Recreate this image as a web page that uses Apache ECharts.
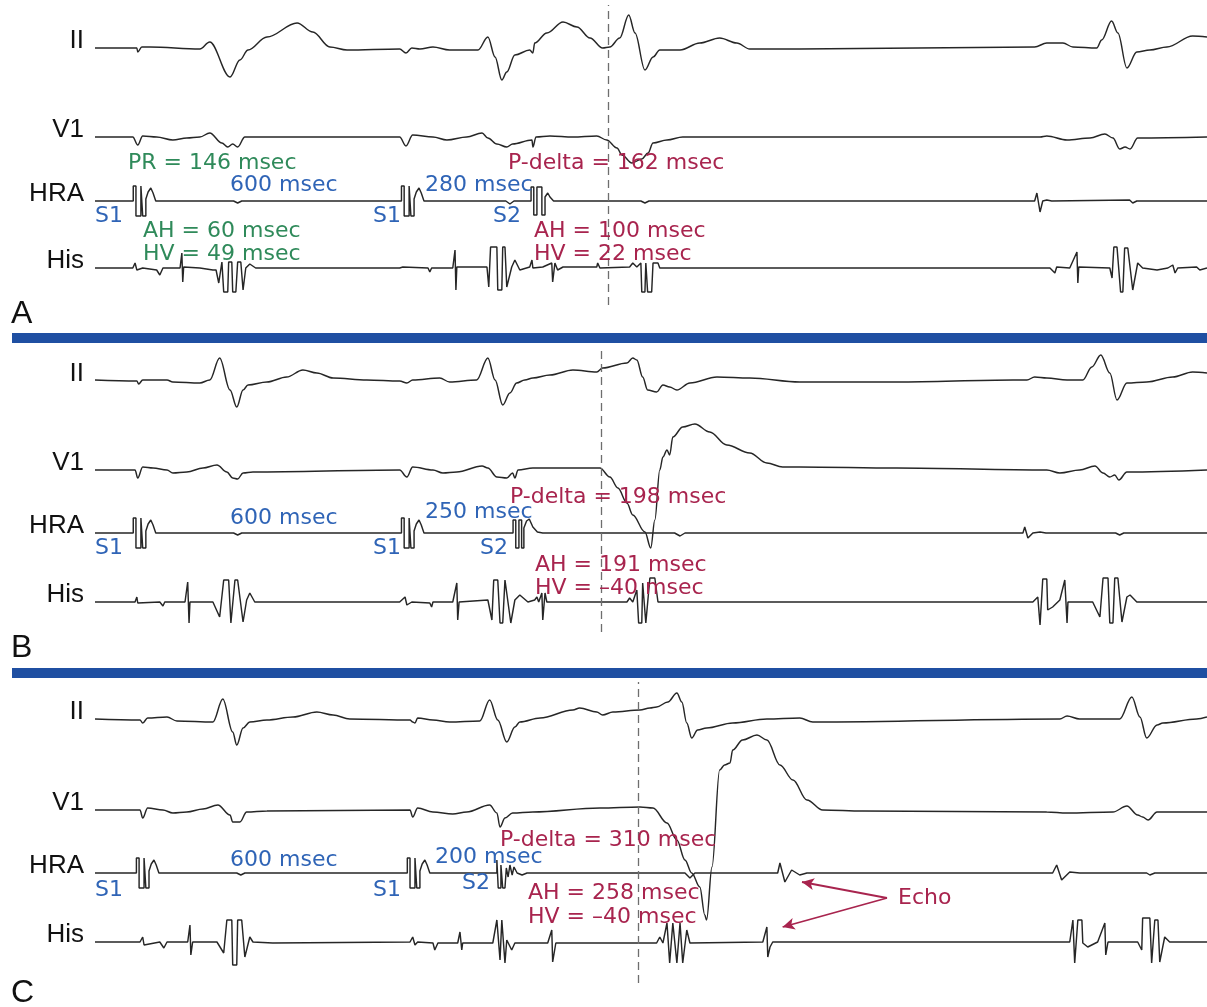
<!DOCTYPE html>
<html lang="en">
<head>
<meta charset="UTF-8">
<title>Premature atrial stimulation - P-delta / AH / HV</title>
<style>
  html, body { margin: 0; padding: 0; background: #fff; }
  #chart { width: 1207px; height: 1007px; }
</style>
</head>
<body>
<div id="chart"></div>
<script src="https://cdn.jsdelivr.net/npm/echarts@6/dist/echarts.min.js"></script>
<script type="text/javascript">
// time in msec from the first S1, amplitude in arbitrary trace units (up = positive)
var traceNames = ['II', 'V1', 'HRA', 'His'];

// ---- panel A : S2 at 280 msec ----
var iiA = [[-93,0],[0,0],[2,-4],[11,1],[29,1],[140,-1],[162,6],[207,-29],[229,-12],[247,-2],[289,11],[356,25],[391,16],[429,1],[467,-2],[584,-1],[598,-5],[611,0],[629,-1],[658,1],[695,-2],[758,-2],[780,11],[796,-9],[811,-32],[822,-24],[840,-7],[873,-2],[880,-5],[884,5],[911,15],[947,26],[978,21],[1007,10],[1035,0],[1051,1],[1073,10],[1093,33],[1107,15],[1129,-22],[1147,-9],[1162,-2],[1207,-2],[1251,5],[1295,10],[1333,5],[1362,-1],[1473,-1],[1995,1],[2022,5],[2058,5],[2080,1],[2133,0],[2144,8],[2166,27],[2180,15],[2200,-20],[2222,-4],[2251,-2],[2289,1],[2346,12],[2378,11]];
var v1A = [[-93,0],[-9,0],[2,-8],[13,1],[44,0],[80,-3],[111,-1],[140,0],[162,4],[189,-6],[202,-10],[213,-7],[224,-10],[240,0],[584,0],[598,-9],[613,2],[658,0],[689,-3],[733,0],[767,4],[780,-1],[800,-7],[822,-10],[835,-7],[878,-3],[880,-10],[887,0],[918,1],[969,0],[1022,1],[1044,-3],[1067,-11],[1078,-18],[1100,-26],[1122,-22],[1136,-16],[1147,-6],[1178,-3],[1213,0],[2007,0],[2022,1],[2067,-3],[2118,-1],[2151,3],[2169,-1],[2184,-12],[2196,-10],[2207,-12],[2224,-1],[2378,0]];
var hraA = [[-93,0],[-8,0],[-8,15],[-2,15],[-2,-15],[9,-15],[9,15],[13,15],[13,-15],[20,-15],[20,2],[25,9],[31,13],[36,8],[42,0],[215,0],[224,-2],[233,0],[588,0],[588,15],[594,15],[594,-15],[605,-15],[605,15],[609,15],[609,-15],[616,-15],[616,2],[621,9],[627,13],[632,8],[638,0],[820,0],[829,-3],[838,0],[876,0],[876,14],[882,14],[882,-14],[889,-14],[889,14],[900,14],[900,-14],[907,-14],[907,4],[913,8],[918,4],[926,0],[1120,0],[1129,-2],[1138,0],[1995,0],[2000,8],[2007,-11],[2013,0],[2022,1],[2033,0],[2206,1],[2213,-2],[2222,0],[2378,0]];
var hisA = [[-93,0],[-9,0],[-4,5],[0,-2],[13,0],[44,-2],[51,-7],[58,0],[96,0],[100,15],[102,-14],[104,1],[140,0],[169,-2],[176,-2],[182,-15],[189,6],[191,6],[193,-24],[202,-24],[204,6],[211,6],[213,-24],[220,-24],[224,6],[231,6],[236,-22],[242,0],[251,4],[264,0],[584,0],[591,1],[647,0],[651,-4],[655,0],[702,0],[707,18],[709,-22],[711,1],[778,1],[782,-19],[786,21],[800,21],[802,-22],[811,-22],[813,21],[818,21],[822,-19],[833,1],[840,8],[851,-2],[873,1],[878,8],[880,0],[902,1],[922,5],[924,-14],[929,5],[935,-2],[947,1],[1022,1],[1024,5],[1029,0],[1095,1],[1102,5],[1111,1],[1120,5],[1122,-24],[1129,-24],[1131,5],[1135,-24],[1144,-24],[1147,5],[1158,5],[1162,0],[2029,0],[2040,-5],[2044,1],[2073,0],[2089,16],[2091,-15],[2093,1],[2162,0],[2167,-10],[2171,21],[2178,21],[2186,-24],[2191,-24],[2195,20],[2202,20],[2213,-22],[2224,5],[2235,0],[2267,-2],[2291,0],[2302,3],[2307,-5],[2313,0],[2355,1],[2362,-2],[2378,0]];

// ---- panel B : S2 at 250 msec ----
var iiB = [[-93,1],[0,0],[4,-3],[13,1],[67,1],[80,-1],[140,-2],[162,1],[184,23],[207,-9],[222,-26],[236,-9],[247,-4],[289,-1],[333,4],[369,11],[400,8],[436,3],[511,1],[584,0],[600,-2],[613,1],[673,3],[695,-1],[755,1],[780,23],[796,1],[813,-24],[829,-12],[844,-2],[862,1],[880,3],[918,6],[969,11],[1022,9],[1035,13],[1089,18],[1102,23],[1111,21],[1124,4],[1135,-9],[1155,-11],[1169,-4],[1184,-6],[1200,-9],[1229,-2],[1289,4],[1362,3],[1473,-1],[1689,-1],[1947,1],[1978,1],[1995,4],[2022,3],[2067,1],[2102,1],[2122,14],[2142,26],[2162,8],[2178,-19],[2200,-2],[2244,-1],[2302,4],[2346,9],[2378,8]];
var v1B = [[-93,0],[-4,0],[2,-8],[13,3],[36,2],[67,0],[80,-3],[111,-2],[147,2],[178,5],[200,-2],[213,-8],[224,-9],[236,-3],[258,-2],[584,0],[600,-7],[613,3],[658,0],[680,-3],[711,-2],[767,4],[780,2],[800,-7],[822,-8],[835,-3],[840,-8],[847,0],[880,2],[1029,2],[1051,-7],[1069,-18],[1089,-33],[1102,-45],[1129,-62],[1142,-78],[1151,-50],[1162,0],[1169,13],[1178,20],[1184,15],[1191,33],[1213,43],[1240,46],[1273,38],[1311,25],[1362,17],[1400,7],[1435,3],[1473,3],[1689,2],[2022,0],[2051,-3],[2095,0],[2129,4],[2147,-3],[2162,-7],[2173,-5],[2182,-10],[2200,-2],[2378,0]];
var hraB = [[-93,0],[-8,0],[-8,15],[-2,15],[-2,-15],[9,-15],[9,15],[13,15],[13,-15],[20,-15],[20,2],[25,9],[31,13],[36,8],[42,0],[215,0],[224,-2],[233,0],[588,0],[588,15],[594,15],[594,-15],[605,-15],[605,15],[609,15],[609,-15],[616,-15],[616,2],[621,9],[627,13],[632,8],[638,0],[836,0],[836,13],[842,13],[842,-15],[849,-15],[849,13],[855,13],[855,-15],[860,-15],[860,5],[866,12],[872,14],[880,6],[890,1],[902,0],[1195,0],[1207,-3],[1218,0],[1969,0],[1973,6],[1980,-5],[1991,0],[2007,1],[2020,0],[2175,0],[2184,-2],[2193,0],[2378,0]];
var hisB = [[-93,0],[-4,0],[0,5],[2,-1],[51,0],[58,-4],[62,0],[107,0],[113,20],[116,-21],[118,0],[169,0],[184,-15],[193,22],[204,22],[209,-21],[213,-21],[218,22],[224,22],[236,-20],[244,2],[251,9],[262,0],[584,0],[596,5],[600,-3],[611,0],[651,-1],[655,-5],[658,0],[702,0],[711,19],[713,-18],[716,0],[780,2],[789,-18],[793,22],[802,22],[807,-21],[813,-21],[818,22],[822,22],[831,-21],[840,2],[851,7],[869,0],[884,2],[889,5],[893,0],[900,9],[902,-18],[907,9],[911,0],[940,0],[1089,0],[1095,4],[1102,0],[1111,12],[1115,-21],[1122,-21],[1124,19],[1131,-21],[1135,-21],[1140,24],[1151,24],[1158,0],[1991,0],[2002,5],[2007,-23],[2013,23],[2022,23],[2024,-8],[2035,-5],[2051,2],[2062,22],[2067,-21],[2069,0],[2124,0],[2140,-15],[2147,24],[2158,24],[2162,-21],[2169,-21],[2173,24],[2180,24],[2189,-20],[2200,5],[2207,7],[2222,0],[2378,0]];

// ---- panel C : S2 at 200 msec, atrial echo ----
var iiC = [[-93,0],[7,-1],[13,-4],[24,1],[67,2],[89,-2],[169,-3],[191,20],[213,-13],[222,-26],[236,-9],[251,-3],[289,-1],[347,2],[400,7],[436,4],[473,0],[607,-1],[613,-3],[618,-4],[624,1],[658,-1],[695,-3],[762,-2],[784,19],[802,-1],[822,-23],[840,-8],[851,-3],[896,1],[969,9],[984,11],[1022,7],[1035,4],[1058,7],[1118,9],[1140,11],[1155,12],[1180,17],[1200,26],[1211,17],[1222,-4],[1233,-19],[1246,-11],[1266,-9],[1324,-4],[1400,0],[1473,1],[1502,-3],[2051,0],[2067,3],[2095,0],[2184,0],[2211,22],[2229,2],[2244,-19],[2267,-6],[2280,-4],[2355,0],[2378,2]];
var v1C = [[-93,0],[7,0],[13,-8],[24,2],[58,0],[80,-3],[111,-2],[147,1],[180,5],[207,-5],[213,-12],[229,-12],[244,-2],[289,-1],[607,0],[613,-7],[624,2],[658,-2],[702,-4],[733,-2],[784,5],[800,-3],[807,-17],[818,-8],[835,-3],[880,-2],[1029,2],[1118,3],[1147,2],[1178,-13],[1200,-30],[1218,-50],[1233,-63],[1251,-77],[1262,-105],[1266,-110],[1278,-57],[1295,40],[1306,45],[1318,47],[1324,60],[1346,70],[1378,75],[1400,70],[1429,45],[1458,30],[1489,10],[1524,0],[1613,-1],[2022,-2],[2067,-3],[2169,-2],[2200,4],[2224,-5],[2235,-7],[2247,-10],[2267,-2],[2378,-2]];
var hraC = [[-93,0],[-1,0],[-1,15],[5,15],[5,-15],[16,-15],[16,15],[20,15],[20,-15],[27,-15],[27,2],[32,9],[38,13],[43,8],[49,0],[222,0],[231,-2],[240,0],[601,0],[601,15],[607,15],[607,-15],[618,-15],[618,15],[622,15],[622,-15],[629,-15],[629,2],[634,9],[640,13],[645,8],[651,0],[800,0],[800,13],[803,13],[803,-15],[809,-15],[809,8],[813,8],[813,-15],[818,-15],[821,5],[825,-4],[829,8],[834,-2],[838,6],[845,0],[856,-2],[867,0],[1218,0],[1229,-5],[1240,0],[1424,0],[1429,10],[1440,-9],[1455,3],[1473,-2],[1489,0],[2035,0],[2044,8],[2055,-7],[2073,1],[2095,0],[2244,0],[2251,-2],[2262,0],[2378,0]];
var hisC = [[-93,0],[7,0],[13,5],[16,-3],[51,0],[60,-6],[67,0],[113,0],[118,17],[120,-13],[124,0],[178,0],[193,-11],[200,22],[211,22],[213,-23],[222,-23],[224,22],[233,22],[240,-15],[251,5],[258,0],[302,-1],[607,0],[613,5],[618,-3],[624,0],[658,-1],[662,-8],[669,-1],[713,-1],[718,10],[722,-8],[724,-1],[791,-1],[800,22],[807,-18],[811,22],[818,-21],[822,2],[833,-8],[840,-1],[913,-1],[922,12],[924,-20],[931,-1],[940,-1],[1155,-1],[1162,5],[1169,-1],[1178,19],[1184,-21],[1191,19],[1200,-21],[1207,19],[1213,-21],[1222,12],[1229,-1],[1391,0],[1400,15],[1402,-15],[1407,-5],[1413,0],[1473,0],[2073,0],[2080,22],[2084,-21],[2091,22],[2100,22],[2102,-1],[2113,-5],[2135,0],[2151,19],[2153,-13],[2158,0],[2224,0],[2233,-8],[2235,24],[2251,24],[2255,-21],[2262,22],[2269,22],[2273,-20],[2284,5],[2295,0],[2378,0]];

// dashed reference line (onset of the delta wave) per panel, msec
var markerTimes = [1047, 1031, 1115];
// echo beats in panel C: [time, amplitude] on HRA and His
var echoHra = [1478, -9];
var echoHis = [1435, 15];

var timeRange = [-93, 2378];

// ---- layout (pixels) ----
var RED = '#a8244e', BLUE = '#2f64b6', GREEN = '#2f8a5a';
var panels = [
  { letter: 'A', top: 5,   height: 300, base: [48, 137, 201, 268], traces: [iiA, v1A, hraA, hisA], letterY: 314 },
  { letter: 'B', top: 350, height: 282, base: [381, 470, 533, 602], traces: [iiB, v1B, hraB, hisB], letterY: 648 },
  { letter: 'C', top: 682, height: 301, base: [719, 810, 873, 942], traces: [iiC, v1C, hraC, hisC], letterY: 993 }
];

var annotations = [
  // A
  ['PR = 146 msec', 128, 163, GREEN], ['600 msec', 230, 185, BLUE], ['S1', 95, 216, BLUE], ['S1', 373, 216, BLUE],
  ['AH = 60 msec', 143, 231, GREEN], ['HV = 49 msec', 143, 254, GREEN], ['280 msec', 425, 185, BLUE], ['S2', 493, 216, BLUE],
  ['P-delta = 162 msec', 508, 163, RED], ['AH = 100 msec', 534, 231, RED], ['HV = 22 msec', 534, 254, RED],
  // B
  ['600 msec', 230, 518, BLUE], ['S1', 95, 548, BLUE], ['S1', 373, 548, BLUE], ['250 msec', 425, 512, BLUE], ['S2', 480, 548, BLUE],
  ['P-delta = 198 msec', 510, 497, RED], ['AH = 191 msec', 535, 565, RED], ['HV = \u201340 msec', 535, 588, RED],
  // C
  ['600 msec', 230, 860, BLUE], ['S1', 95, 890, BLUE], ['S1', 373, 890, BLUE], ['200 msec', 435, 857, BLUE], ['S2', 462, 883, BLUE],
  ['P-delta = 310 msec', 500, 840, RED], ['AH = 258 msec', 528, 893, RED], ['HV = \u201340 msec', 528, 917, RED],
  ['Echo', 898, 898, RED]
];

var myChart = echarts.init(document.getElementById('chart'), null, { renderer: 'canvas' });

var grids = [], xAxes = [], yAxes = [], series = [], graphics = [];

panels.forEach(function (p, pi) {
  grids.push({ left: 95, right: 0, top: p.top, height: p.height });
  xAxes.push({ type: 'value', gridIndex: pi, min: timeRange[0], max: timeRange[1], show: false });
  yAxes.push({ type: 'value', gridIndex: pi, min: 0, max: p.height, show: false });
  var bottom = p.top + p.height;
  p.traces.forEach(function (tr, ti) {
    var off = bottom - p.base[ti];
    var s = {
      name: p.letter + ' ' + traceNames[ti],
      type: 'line',
      xAxisIndex: pi,
      yAxisIndex: pi,
      showSymbol: false,
      clip: false,
      silent: true,
      // surface leads are smooth, intracardiac ones keep their sharp spikes
      smooth: ti < 2 ? 0.35 : false,
      smoothMonotone: 'x',
      lineStyle: { color: '#262626', width: 1.45 },
      data: tr.map(function (d) { return [d[0], d[1] + off]; })
    };
    if (ti === 3) {
      s.markLine = {
        silent: true, symbol: 'none', label: { show: false },
        lineStyle: { color: '#6e6e6e', width: 1.3, type: [8, 5] },
        data: [{ xAxis: markerTimes[pi] }]
      };
    }
    if (pi === 2 && ti === 2) {
      var hisOff = bottom - p.base[3];
      var from = { coord: [1667, 85] };
      s.markLine = {
        silent: true, symbol: ['none', 'arrow'], symbolSize: [9, 12], label: { show: false },
        lineStyle: { color: RED, width: 1.8, type: 'solid' },
        data: [
          [from, { coord: [echoHra[0], echoHra[1] + off] }],
          [from, { coord: [echoHis[0], echoHis[1] + hisOff] }]
        ]
      };
    }
    series.push(s);
    graphics.push({
      type: 'text', x: 84, y: p.base[ti] - 7, z: 100,
      style: { text: traceNames[ti], fill: '#111', font: '26px "Liberation Sans", Arial, sans-serif',
               textAlign: 'right', textVerticalAlign: 'middle', align: 'right', verticalAlign: 'middle' }
    });
  });
  graphics.push({
    type: 'text', x: 11, y: p.letterY, z: 100,
    style: { text: p.letter, fill: '#111', font: '32px "Liberation Sans", Arial, sans-serif',
             textAlign: 'left', textVerticalAlign: 'middle', align: 'left', verticalAlign: 'middle' }
  });
});

// blue separators between panels
[333, 668].forEach(function (y) {
  graphics.push({ type: 'rect', z: 100, shape: { x: 12, y: y, width: 1195, height: 10 }, style: { fill: '#1f4fa2' } });
});

annotations.forEach(function (a) {
  graphics.push({
    type: 'text', x: a[1], y: a[2], z: 100,
    style: { text: a[0], fill: a[3], font: '22px "DejaVu Sans", sans-serif',
             textAlign: 'left', textVerticalAlign: 'middle', align: 'left', verticalAlign: 'middle' }
  });
});

var option = {
  backgroundColor: '#ffffff',
  animation: false,
  grid: grids,
  xAxis: xAxes,
  yAxis: yAxes,
  series: series,
  graphic: graphics
};

myChart.setOption(option);
</script>
</body>
</html>
